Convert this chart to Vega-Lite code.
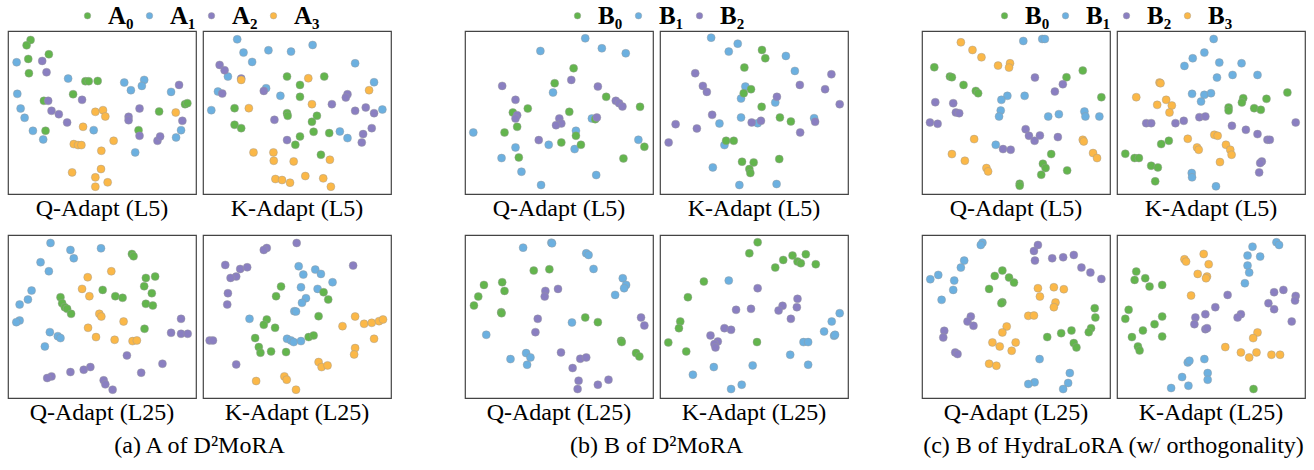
{
"$schema":"https://vega.github.io/schema/vega-lite/v6.json",
"background":"white",
"padding":{"left":7,"top":3,"right":2,"bottom":2},
"config":{"view":{"stroke":"#444","strokeWidth":1.2},"font":"Liberation Serif",
"legend":{"orient":"none","direction":"horizontal","title":null,"labelFont":"Liberation Serif","labelFontSize":25,"labelFontWeight":"bold","labelColor":"#000","symbolType":"circle","symbolSize":42,"symbolStrokeWidth":0,"labelOffset":8,"columnPadding":3,"legendY":-28},
"header":{"title":null,"labelOrient":"bottom","labelFont":"Liberation Serif","labelFontSize":24,"labelColor":"#000","labelPadding":3},
"title":{"font":"Liberation Serif","fontSize":24,"fontWeight":"normal","color":"#000","orient":"bottom","anchor":"middle","offset":8},
"point":{"filled":true,"size":64,"opacity":1,"stroke":"#999","strokeWidth":0.6,"strokeOpacity":0.7}},
"datasets":{
"a":[
{"p":"Q5","c":"A₀","x":68,"y":27},{"p":"Q5","c":"A₀","x":56,"y":43},{"p":"Q5","c":"A₀","x":61,"y":84},{"p":"Q5","c":"A₀","x":123,"y":70},{"p":"Q5","c":"A₀","x":63,"y":127},{"p":"Q5","c":"A₀","x":108,"y":210},{"p":"Q5","c":"A₀","x":233,"y":151},{"p":"Q5","c":"A₀","x":243,"y":151},{"p":"Q5","c":"A₀","x":270,"y":150},{"p":"Q5","c":"A₀","x":196,"y":190},{"p":"Q5","c":"A₀","x":455,"y":242},{"p":"Q5","c":"A₀","x":393,"y":298},{"p":"Q5","c":"A₀","x":113,"y":300},{"p":"Q5","c":"A₀","x":533,"y":220},{"p":"Q5","c":"A₀","x":540,"y":217},
{"p":"Q5","c":"A₁","x":26,"y":94},{"p":"Q5","c":"A₁","x":181,"y":143},{"p":"Q5","c":"A₁","x":28,"y":189},{"p":"Q5","c":"A₁","x":38,"y":233},{"p":"Q5","c":"A₁","x":50,"y":261},{"p":"Q5","c":"A₁","x":75,"y":300},{"p":"Q5","c":"A₁","x":106,"y":326},{"p":"Q5","c":"A₁","x":258,"y":298},{"p":"Q5","c":"A₁","x":350,"y":155},{"p":"Q5","c":"A₁","x":370,"y":178},{"p":"Q5","c":"A₁","x":410,"y":147},{"p":"Q5","c":"A₁","x":403,"y":165},{"p":"Q5","c":"A₁","x":491,"y":183},{"p":"Q5","c":"A₁","x":521,"y":298},{"p":"Q5","c":"A₁","x":506,"y":320},{"p":"Q5","c":"A₁","x":383,"y":365},
{"p":"Q5","c":"A₂","x":103,"y":90},{"p":"Q5","c":"A₂","x":116,"y":124},{"p":"Q5","c":"A₂","x":121,"y":210},{"p":"Q5","c":"A₂","x":131,"y":240},{"p":"Q5","c":"A₂","x":153,"y":250},{"p":"Q5","c":"A₂","x":178,"y":275},{"p":"Q5","c":"A₂","x":223,"y":207},{"p":"Q5","c":"A₂","x":396,"y":233},{"p":"Q5","c":"A₂","x":363,"y":258},{"p":"Q5","c":"A₂","x":363,"y":268},{"p":"Q5","c":"A₂","x":396,"y":315},{"p":"Q5","c":"A₂","x":450,"y":330},{"p":"Q5","c":"A₂","x":458,"y":317},{"p":"Q5","c":"A₂","x":515,"y":162},{"p":"Q5","c":"A₂","x":525,"y":270},
{"p":"Q5","c":"A₃","x":263,"y":243},{"p":"Q5","c":"A₃","x":286,"y":238},{"p":"Q5","c":"A₃","x":293,"y":257},{"p":"Q5","c":"A₃","x":226,"y":288},{"p":"Q5","c":"A₃","x":198,"y":340},{"p":"Q5","c":"A₃","x":211,"y":343},{"p":"Q5","c":"A₃","x":221,"y":343},{"p":"Q5","c":"A₃","x":318,"y":330},{"p":"Q5","c":"A₃","x":281,"y":360},{"p":"Q5","c":"A₃","x":280,"y":415},{"p":"Q5","c":"A₃","x":193,"y":425},{"p":"Q5","c":"A₃","x":263,"y":440},{"p":"Q5","c":"A₃","x":300,"y":455},{"p":"Q5","c":"A₃","x":263,"y":468},{"p":"Q5","c":"A₃","x":505,"y":245},
{"p":"K5","c":"A₁","x":103,"y":25},{"p":"K5","c":"A₁","x":122,"y":65},{"p":"K5","c":"A₁","x":148,"y":93},{"p":"K5","c":"A₁","x":197,"y":58},{"p":"K5","c":"A₁","x":265,"y":62},{"p":"K5","c":"A₁","x":330,"y":42},{"p":"K5","c":"A₁","x":458,"y":97},{"p":"K5","c":"A₁","x":75,"y":137},{"p":"K5","c":"A₁","x":45,"y":182},{"p":"K5","c":"A₁","x":25,"y":238},{"p":"K5","c":"A₁","x":190,"y":172},{"p":"K5","c":"A₁","x":233,"y":195},{"p":"K5","c":"A₁","x":515,"y":154},{"p":"K5","c":"A₁","x":540,"y":236},{"p":"K5","c":"A₁","x":412,"y":302},{"p":"K5","c":"A₁","x":435,"y":322},
{"p":"K5","c":"A₂","x":50,"y":102},{"p":"K5","c":"A₂","x":65,"y":118},{"p":"K5","c":"A₂","x":115,"y":143},{"p":"K5","c":"A₂","x":58,"y":188},{"p":"K5","c":"A₂","x":183,"y":180},{"p":"K5","c":"A₂","x":215,"y":267},{"p":"K5","c":"A₂","x":253,"y":328},{"p":"K5","c":"A₂","x":388,"y":220},{"p":"K5","c":"A₂","x":435,"y":190},{"p":"K5","c":"A₂","x":430,"y":200},{"p":"K5","c":"A₂","x":458,"y":240},{"p":"K5","c":"A₂","x":490,"y":230},{"p":"K5","c":"A₂","x":515,"y":247},{"p":"K5","c":"A₂","x":508,"y":292},{"p":"K5","c":"A₂","x":482,"y":310},{"p":"K5","c":"A₂","x":478,"y":335},
{"p":"K5","c":"A₀","x":253,"y":137},{"p":"K5","c":"A₀","x":365,"y":137},{"p":"K5","c":"A₀","x":292,"y":162},{"p":"K5","c":"A₀","x":292,"y":198},{"p":"K5","c":"A₀","x":95,"y":232},{"p":"K5","c":"A₀","x":253,"y":247},{"p":"K5","c":"A₀","x":255,"y":255},{"p":"K5","c":"A₀","x":343,"y":255},{"p":"K5","c":"A₀","x":328,"y":273},{"p":"K5","c":"A₀","x":95,"y":282},{"p":"K5","c":"A₀","x":115,"y":292},{"p":"K5","c":"A₀","x":333,"y":303},{"p":"K5","c":"A₀","x":380,"y":307},{"p":"K5","c":"A₀","x":292,"y":317},{"p":"K5","c":"A₀","x":278,"y":342},{"p":"K5","c":"A₀","x":355,"y":372},
{"p":"K5","c":"A₃","x":317,"y":142},{"p":"K5","c":"A₃","x":115,"y":147},{"p":"K5","c":"A₃","x":500,"y":178},{"p":"K5","c":"A₃","x":138,"y":232},{"p":"K5","c":"A₃","x":328,"y":220},{"p":"K5","c":"A₃","x":152,"y":365},{"p":"K5","c":"A₃","x":212,"y":365},{"p":"K5","c":"A₃","x":213,"y":390},{"p":"K5","c":"A₃","x":273,"y":392},{"p":"K5","c":"A₃","x":382,"y":387},{"p":"K5","c":"A₃","x":218,"y":445},{"p":"K5","c":"A₃","x":238,"y":448},{"p":"K5","c":"A₃","x":262,"y":456},{"p":"K5","c":"A₃","x":308,"y":436},{"p":"K5","c":"A₃","x":362,"y":443},{"p":"K5","c":"A₃","x":385,"y":468},
{"p":"Q25","c":"A₁","x":128,"y":24},{"p":"Q25","c":"A₁","x":188,"y":45},{"p":"Q25","c":"A₁","x":198,"y":70},{"p":"Q25","c":"A₁","x":280,"y":40},{"p":"Q25","c":"A₁","x":98,"y":82},{"p":"Q25","c":"A₁","x":123,"y":109},{"p":"Q25","c":"A₁","x":71,"y":167},{"p":"Q25","c":"A₁","x":60,"y":194},{"p":"Q25","c":"A₁","x":35,"y":209},{"p":"Q25","c":"A₁","x":35,"y":257},{"p":"Q25","c":"A₁","x":25,"y":262},{"p":"Q25","c":"A₁","x":126,"y":292},{"p":"Q25","c":"A₁","x":150,"y":304},{"p":"Q25","c":"A₁","x":158,"y":310},{"p":"Q25","c":"A₁","x":111,"y":335},
{"p":"Q25","c":"A₀","x":373,"y":57},{"p":"Q25","c":"A₀","x":378,"y":64},{"p":"Q25","c":"A₀","x":415,"y":129},{"p":"Q25","c":"A₀","x":443,"y":125},{"p":"Q25","c":"A₀","x":410,"y":154},{"p":"Q25","c":"A₀","x":433,"y":175},{"p":"Q25","c":"A₀","x":415,"y":207},{"p":"Q25","c":"A₀","x":436,"y":212},{"p":"Q25","c":"A₀","x":285,"y":165},{"p":"Q25","c":"A₀","x":323,"y":184},{"p":"Q25","c":"A₀","x":345,"y":189},{"p":"Q25","c":"A₀","x":158,"y":187},{"p":"Q25","c":"A₀","x":163,"y":205},{"p":"Q25","c":"A₀","x":171,"y":217},{"p":"Q25","c":"A₀","x":178,"y":222},{"p":"Q25","c":"A₀","x":190,"y":237},{"p":"Q25","c":"A₀","x":411,"y":282},
{"p":"Q25","c":"A₃","x":240,"y":127},{"p":"Q25","c":"A₃","x":311,"y":109},{"p":"Q25","c":"A₃","x":223,"y":162},{"p":"Q25","c":"A₃","x":245,"y":184},{"p":"Q25","c":"A₃","x":275,"y":237},{"p":"Q25","c":"A₃","x":281,"y":245},{"p":"Q25","c":"A₃","x":348,"y":260},{"p":"Q25","c":"A₃","x":241,"y":279},{"p":"Q25","c":"A₃","x":265,"y":307},{"p":"Q25","c":"A₃","x":321,"y":315},{"p":"Q25","c":"A₃","x":375,"y":319},{"p":"Q25","c":"A₃","x":388,"y":317},
{"p":"Q25","c":"A₂","x":521,"y":252},{"p":"Q25","c":"A₂","x":491,"y":294},{"p":"Q25","c":"A₂","x":521,"y":297},{"p":"Q25","c":"A₂","x":541,"y":297},{"p":"Q25","c":"A₂","x":358,"y":362},{"p":"Q25","c":"A₂","x":465,"y":387},{"p":"Q25","c":"A₂","x":401,"y":414},{"p":"Q25","c":"A₂","x":248,"y":397},{"p":"Q25","c":"A₂","x":228,"y":405},{"p":"Q25","c":"A₂","x":188,"y":412},{"p":"Q25","c":"A₂","x":131,"y":425},{"p":"Q25","c":"A₂","x":118,"y":430},{"p":"Q25","c":"A₂","x":288,"y":437},{"p":"Q25","c":"A₂","x":293,"y":449},{"p":"Q25","c":"A₂","x":315,"y":465},
{"p":"K25","c":"A₂","x":282,"y":24},{"p":"K25","c":"A₂","x":192,"y":39},{"p":"K25","c":"A₂","x":183,"y":45},{"p":"K25","c":"A₂","x":67,"y":90},{"p":"K25","c":"A₂","x":112,"y":102},{"p":"K25","c":"A₂","x":133,"y":97},{"p":"K25","c":"A₂","x":100,"y":125},{"p":"K25","c":"A₂","x":83,"y":129},{"p":"K25","c":"A₂","x":75,"y":175},{"p":"K25","c":"A₂","x":73,"y":209},{"p":"K25","c":"A₂","x":452,"y":92},{"p":"K25","c":"A₂","x":20,"y":317},{"p":"K25","c":"A₂","x":30,"y":317},{"p":"K25","c":"A₂","x":100,"y":389},
{"p":"K25","c":"A₁","x":288,"y":94},{"p":"K25","c":"A₁","x":302,"y":119},{"p":"K25","c":"A₁","x":338,"y":104},{"p":"K25","c":"A₁","x":355,"y":117},{"p":"K25","c":"A₁","x":390,"y":142},{"p":"K25","c":"A₁","x":295,"y":157},{"p":"K25","c":"A₁","x":345,"y":162},{"p":"K25","c":"A₁","x":310,"y":190},{"p":"K25","c":"A₁","x":298,"y":204},{"p":"K25","c":"A₁","x":275,"y":229},{"p":"K25","c":"A₁","x":280,"y":230},{"p":"K25","c":"A₁","x":140,"y":252},{"p":"K25","c":"A₁","x":253,"y":312},{"p":"K25","c":"A₁","x":265,"y":317},{"p":"K25","c":"A₁","x":273,"y":322},{"p":"K25","c":"A₁","x":295,"y":319},
{"p":"K25","c":"A₀","x":235,"y":155},{"p":"K25","c":"A₀","x":220,"y":184},{"p":"K25","c":"A₀","x":363,"y":172},{"p":"K25","c":"A₀","x":377,"y":194},{"p":"K25","c":"A₀","x":348,"y":244},{"p":"K25","c":"A₀","x":192,"y":254},{"p":"K25","c":"A₀","x":183,"y":270},{"p":"K25","c":"A₀","x":217,"y":279},{"p":"K25","c":"A₀","x":157,"y":310},{"p":"K25","c":"A₀","x":168,"y":337},{"p":"K25","c":"A₀","x":173,"y":354},{"p":"K25","c":"A₀","x":205,"y":350},{"p":"K25","c":"A₀","x":250,"y":352},{"p":"K25","c":"A₀","x":318,"y":307},{"p":"K25","c":"A₀","x":333,"y":302},
{"p":"K25","c":"A₃","x":458,"y":245},{"p":"K25","c":"A₃","x":420,"y":274},{"p":"K25","c":"A₃","x":485,"y":267},{"p":"K25","c":"A₃","x":508,"y":264},{"p":"K25","c":"A₃","x":530,"y":259},{"p":"K25","c":"A₃","x":542,"y":254},{"p":"K25","c":"A₃","x":515,"y":312},{"p":"K25","c":"A₃","x":458,"y":340},{"p":"K25","c":"A₃","x":455,"y":359},{"p":"K25","c":"A₃","x":348,"y":382},{"p":"K25","c":"A₃","x":357,"y":397},{"p":"K25","c":"A₃","x":375,"y":392},{"p":"K25","c":"A₃","x":245,"y":425},{"p":"K25","c":"A₃","x":252,"y":435},{"p":"K25","c":"A₃","x":160,"y":439},{"p":"K25","c":"A₃","x":280,"y":465}
],
"b":[
{"p":"Q5","c":"B₁","x":362,"y":22},{"p":"Q5","c":"B₁","x":227,"y":60},{"p":"Q5","c":"B₁","x":412,"y":52},{"p":"Q5","c":"B₁","x":484,"y":67},{"p":"Q5","c":"B₁","x":265,"y":185},{"p":"Q5","c":"B₁","x":25,"y":305},{"p":"Q5","c":"B₁","x":152,"y":350},{"p":"Q5","c":"B₁","x":110,"y":382},{"p":"Q5","c":"B₁","x":170,"y":423},{"p":"Q5","c":"B₁","x":229,"y":463},{"p":"Q5","c":"B₁","x":252,"y":342},{"p":"Q5","c":"B₁","x":334,"y":300},{"p":"Q5","c":"B₁","x":330,"y":355},{"p":"Q5","c":"B₁","x":382,"y":263},{"p":"Q5","c":"B₁","x":522,"y":327},{"p":"Q5","c":"B₁","x":395,"y":433},
{"p":"Q5","c":"B₀","x":327,"y":112},{"p":"Q5","c":"B₀","x":270,"y":157},{"p":"Q5","c":"B₀","x":425,"y":198},{"p":"Q5","c":"B₀","x":527,"y":228},{"p":"Q5","c":"B₀","x":189,"y":233},{"p":"Q5","c":"B₀","x":144,"y":245},{"p":"Q5","c":"B₀","x":157,"y":288},{"p":"Q5","c":"B₀","x":119,"y":305},{"p":"Q5","c":"B₀","x":314,"y":243},{"p":"Q5","c":"B₀","x":392,"y":265},{"p":"Q5","c":"B₀","x":334,"y":315},{"p":"Q5","c":"B₀","x":349,"y":342},{"p":"Q5","c":"B₀","x":290,"y":335},{"p":"Q5","c":"B₀","x":162,"y":380},{"p":"Q5","c":"B₀","x":477,"y":383},{"p":"Q5","c":"B₀","x":540,"y":348},
{"p":"Q5","c":"B₂","x":112,"y":165},{"p":"Q5","c":"B₂","x":320,"y":147},{"p":"Q5","c":"B₂","x":400,"y":167},{"p":"Q5","c":"B₂","x":152,"y":207},{"p":"Q5","c":"B₂","x":157,"y":253},{"p":"Q5","c":"B₂","x":152,"y":263},{"p":"Q5","c":"B₂","x":284,"y":263},{"p":"Q5","c":"B₂","x":290,"y":278},{"p":"Q5","c":"B₂","x":274,"y":283},{"p":"Q5","c":"B₂","x":397,"y":260},{"p":"Q5","c":"B₂","x":454,"y":210},{"p":"Q5","c":"B₂","x":464,"y":217},{"p":"Q5","c":"B₂","x":474,"y":227},{"p":"Q5","c":"B₂","x":222,"y":328},
{"p":"K5","c":"B₁","x":154,"y":20},{"p":"K5","c":"B₁","x":234,"y":38},{"p":"K5","c":"B₁","x":207,"y":62},{"p":"K5","c":"B₁","x":379,"y":75},{"p":"K5","c":"B₁","x":406,"y":120},{"p":"K5","c":"B₁","x":257,"y":167},{"p":"K5","c":"B₁","x":244,"y":203},{"p":"K5","c":"B₁","x":347,"y":215},{"p":"K5","c":"B₁","x":244,"y":260},{"p":"K5","c":"B₁","x":179,"y":278},{"p":"K5","c":"B₁","x":294,"y":277},{"p":"K5","c":"B₁","x":464,"y":262},{"p":"K5","c":"B₁","x":194,"y":343},{"p":"K5","c":"B₁","x":159,"y":410},{"p":"K5","c":"B₁","x":239,"y":463},{"p":"K5","c":"B₁","x":351,"y":460},
{"p":"K5","c":"B₀","x":307,"y":57},{"p":"K5","c":"B₀","x":317,"y":82},{"p":"K5","c":"B₀","x":254,"y":110},{"p":"K5","c":"B₀","x":274,"y":175},{"p":"K5","c":"B₀","x":252,"y":187},{"p":"K5","c":"B₀","x":306,"y":228},{"p":"K5","c":"B₀","x":361,"y":260},{"p":"K5","c":"B₀","x":394,"y":272},{"p":"K5","c":"B₀","x":199,"y":330},{"p":"K5","c":"B₀","x":222,"y":330},{"p":"K5","c":"B₀","x":247,"y":393},{"p":"K5","c":"B₀","x":282,"y":395},{"p":"K5","c":"B₀","x":269,"y":415},{"p":"K5","c":"B₀","x":272,"y":427},{"p":"K5","c":"B₀","x":359,"y":385},
{"p":"K5","c":"B₂","x":106,"y":127},{"p":"K5","c":"B₂","x":129,"y":165},{"p":"K5","c":"B₂","x":141,"y":183},{"p":"K5","c":"B₂","x":516,"y":130},{"p":"K5","c":"B₂","x":421,"y":162},{"p":"K5","c":"B₂","x":497,"y":175},{"p":"K5","c":"B₂","x":541,"y":220},{"p":"K5","c":"B₂","x":352,"y":198},{"p":"K5","c":"B₂","x":157,"y":252},{"p":"K5","c":"B₂","x":47,"y":280},{"p":"K5","c":"B₂","x":111,"y":293},{"p":"K5","c":"B₂","x":26,"y":335},{"p":"K5","c":"B₂","x":276,"y":275},{"p":"K5","c":"B₂","x":304,"y":270},{"p":"K5","c":"B₂","x":467,"y":273},{"p":"K5","c":"B₂","x":422,"y":305},
{"p":"Q25","c":"B₁","x":175,"y":38},{"p":"Q25","c":"B₁","x":260,"y":23},{"p":"Q25","c":"B₁","x":262,"y":25},{"p":"Q25","c":"B₁","x":365,"y":55},{"p":"Q25","c":"B₁","x":372,"y":60},{"p":"Q25","c":"B₁","x":387,"y":102},{"p":"Q25","c":"B₁","x":475,"y":130},{"p":"Q25","c":"B₁","x":485,"y":150},{"p":"Q25","c":"B₁","x":479,"y":160},{"p":"Q25","c":"B₁","x":452,"y":180},{"p":"Q25","c":"B₁","x":322,"y":263},{"p":"Q25","c":"B₁","x":64,"y":300},{"p":"Q25","c":"B₁","x":137,"y":373},{"p":"Q25","c":"B₁","x":184,"y":355},{"p":"Q25","c":"B₁","x":197,"y":368},{"p":"Q25","c":"B₁","x":187,"y":390},
{"p":"Q25","c":"B₀","x":207,"y":107},{"p":"Q25","c":"B₀","x":254,"y":103},{"p":"Q25","c":"B₀","x":57,"y":150},{"p":"Q25","c":"B₀","x":112,"y":142},{"p":"Q25","c":"B₀","x":119,"y":168},{"p":"Q25","c":"B₀","x":40,"y":185},{"p":"Q25","c":"B₀","x":27,"y":212},{"p":"Q25","c":"B₀","x":109,"y":232},{"p":"Q25","c":"B₀","x":110,"y":235},{"p":"Q25","c":"B₀","x":362,"y":248},{"p":"Q25","c":"B₀","x":400,"y":262},{"p":"Q25","c":"B₀","x":470,"y":318},{"p":"Q25","c":"B₀","x":472,"y":322},{"p":"Q25","c":"B₀","x":515,"y":355},{"p":"Q25","c":"B₀","x":525,"y":365},
{"p":"Q25","c":"B₂","x":242,"y":168},{"p":"Q25","c":"B₂","x":280,"y":162},{"p":"Q25","c":"B₂","x":240,"y":185},{"p":"Q25","c":"B₂","x":219,"y":252},{"p":"Q25","c":"B₂","x":530,"y":248},{"p":"Q25","c":"B₂","x":540,"y":272},{"p":"Q25","c":"B₂","x":212,"y":292},{"p":"Q25","c":"B₂","x":289,"y":353},{"p":"Q25","c":"B₂","x":347,"y":372},{"p":"Q25","c":"B₂","x":365,"y":368},{"p":"Q25","c":"B₂","x":324,"y":400},{"p":"Q25","c":"B₂","x":342,"y":438},{"p":"Q25","c":"B₂","x":339,"y":463},{"p":"Q25","c":"B₂","x":400,"y":450},{"p":"Q25","c":"B₂","x":432,"y":435},
{"p":"K25","c":"B₀","x":294,"y":22},{"p":"K25","c":"B₀","x":269,"y":55},{"p":"K25","c":"B₀","x":347,"y":98},{"p":"K25","c":"B₀","x":371,"y":75},{"p":"K25","c":"B₀","x":399,"y":62},{"p":"K25","c":"B₀","x":414,"y":80},{"p":"K25","c":"B₀","x":424,"y":85},{"p":"K25","c":"B₀","x":439,"y":58},{"p":"K25","c":"B₀","x":469,"y":88},{"p":"K25","c":"B₀","x":132,"y":140},{"p":"K25","c":"B₀","x":84,"y":187},{"p":"K25","c":"B₀","x":61,"y":260},{"p":"K25","c":"B₀","x":57,"y":280},{"p":"K25","c":"B₀","x":25,"y":323},{"p":"K25","c":"B₀","x":79,"y":350},{"p":"K25","c":"B₀","x":292,"y":322},
{"p":"K25","c":"B₁","x":207,"y":137},{"p":"K25","c":"B₁","x":541,"y":235},{"p":"K25","c":"B₁","x":517,"y":260},{"p":"K25","c":"B₁","x":494,"y":290},{"p":"K25","c":"B₁","x":524,"y":303},{"p":"K25","c":"B₁","x":527,"y":300},{"p":"K25","c":"B₁","x":432,"y":322},{"p":"K25","c":"B₁","x":446,"y":322},{"p":"K25","c":"B₁","x":392,"y":360},{"p":"K25","c":"B₁","x":446,"y":390},{"p":"K25","c":"B₁","x":279,"y":392},{"p":"K25","c":"B₁","x":162,"y":397},{"p":"K25","c":"B₁","x":99,"y":420},{"p":"K25","c":"B₁","x":246,"y":450},{"p":"K25","c":"B₁","x":214,"y":463},
{"p":"K25","c":"B₂","x":294,"y":160},{"p":"K25","c":"B₂","x":414,"y":192},{"p":"K25","c":"B₂","x":412,"y":217},{"p":"K25","c":"B₂","x":369,"y":213},{"p":"K25","c":"B₂","x":357,"y":227},{"p":"K25","c":"B₂","x":394,"y":252},{"p":"K25","c":"B₂","x":229,"y":225},{"p":"K25","c":"B₂","x":274,"y":222},{"p":"K25","c":"B₂","x":194,"y":280},{"p":"K25","c":"B₂","x":214,"y":285},{"p":"K25","c":"B₂","x":152,"y":302},{"p":"K25","c":"B₂","x":174,"y":320},{"p":"K25","c":"B₂","x":164,"y":328},{"p":"K25","c":"B₂","x":167,"y":338}
],
"c":[
{"p":"Q5","c":"B₃","x":117,"y":34},{"p":"Q5","c":"B₃","x":152,"y":57},{"p":"Q5","c":"B₃","x":179,"y":79},{"p":"Q5","c":"B₃","x":229,"y":104},{"p":"Q5","c":"B₃","x":265,"y":97},{"p":"Q5","c":"B₃","x":262,"y":110},{"p":"Q5","c":"B₃","x":157,"y":325},{"p":"Q5","c":"B₃","x":90,"y":370},{"p":"Q5","c":"B₃","x":129,"y":390},{"p":"Q5","c":"B₃","x":194,"y":412},{"p":"Q5","c":"B₃","x":199,"y":422},{"p":"Q5","c":"B₃","x":484,"y":327},{"p":"Q5","c":"B₃","x":487,"y":332},{"p":"Q5","c":"B₃","x":515,"y":367},{"p":"Q5","c":"B₃","x":527,"y":382},
{"p":"Q5","c":"B₁","x":305,"y":30},{"p":"Q5","c":"B₁","x":362,"y":24},{"p":"Q5","c":"B₁","x":370,"y":24},{"p":"Q5","c":"B₁","x":309,"y":195},{"p":"Q5","c":"B₁","x":257,"y":195},{"p":"Q5","c":"B₁","x":239,"y":207},{"p":"Q5","c":"B₁","x":237,"y":239},{"p":"Q5","c":"B₁","x":232,"y":257},{"p":"Q5","c":"B₁","x":380,"y":257},{"p":"Q5","c":"B₁","x":412,"y":250},{"p":"Q5","c":"B₁","x":489,"y":242},{"p":"Q5","c":"B₁","x":492,"y":257},{"p":"Q5","c":"B₁","x":534,"y":257},{"p":"Q5","c":"B₁","x":222,"y":342},
{"p":"Q5","c":"B₀","x":37,"y":109},{"p":"Q5","c":"B₀","x":84,"y":137},{"p":"Q5","c":"B₀","x":90,"y":139},{"p":"Q5","c":"B₀","x":125,"y":162},{"p":"Q5","c":"B₀","x":162,"y":180},{"p":"Q5","c":"B₀","x":169,"y":187},{"p":"Q5","c":"B₀","x":435,"y":139},{"p":"Q5","c":"B₀","x":484,"y":119},{"p":"Q5","c":"B₀","x":540,"y":199},{"p":"Q5","c":"B₀","x":389,"y":370},{"p":"Q5","c":"B₀","x":364,"y":399},{"p":"Q5","c":"B₀","x":372,"y":412},{"p":"Q5","c":"B₀","x":359,"y":432},{"p":"Q5","c":"B₀","x":437,"y":419},{"p":"Q5","c":"B₀","x":294,"y":459},{"p":"Q5","c":"B₀","x":294,"y":465},
{"p":"Q5","c":"B₂","x":340,"y":140},{"p":"Q5","c":"B₂","x":424,"y":160},{"p":"Q5","c":"B₂","x":400,"y":182},{"p":"Q5","c":"B₂","x":40,"y":214},{"p":"Q5","c":"B₂","x":94,"y":217},{"p":"Q5","c":"B₂","x":102,"y":245},{"p":"Q5","c":"B₂","x":112,"y":247},{"p":"Q5","c":"B₂","x":24,"y":275},{"p":"Q5","c":"B₂","x":47,"y":279},{"p":"Q5","c":"B₂","x":312,"y":295},{"p":"Q5","c":"B₂","x":322,"y":315},{"p":"Q5","c":"B₂","x":339,"y":330},{"p":"Q5","c":"B₂","x":355,"y":314},{"p":"Q5","c":"B₂","x":409,"y":319},{"p":"Q5","c":"B₂","x":244,"y":355},{"p":"Q5","c":"B₂","x":267,"y":357},
{"p":"K5","c":"B₁","x":291,"y":24},{"p":"K5","c":"B₁","x":263,"y":65},{"p":"K5","c":"B₁","x":228,"y":82},{"p":"K5","c":"B₁","x":203,"y":105},{"p":"K5","c":"B₁","x":308,"y":95},{"p":"K5","c":"B₁","x":375,"y":97},{"p":"K5","c":"B₁","x":301,"y":140},{"p":"K5","c":"B₁","x":348,"y":132},{"p":"K5","c":"B₁","x":423,"y":132},{"p":"K5","c":"B₁","x":226,"y":189},{"p":"K5","c":"B₁","x":263,"y":192},{"p":"K5","c":"B₁","x":283,"y":187},{"p":"K5","c":"B₁","x":253,"y":212},{"p":"K5","c":"B₁","x":225,"y":427},{"p":"K5","c":"B₁","x":226,"y":440},{"p":"K5","c":"B₁","x":298,"y":467},
{"p":"K5","c":"B₃","x":128,"y":155},{"p":"K5","c":"B₃","x":131,"y":157},{"p":"K5","c":"B₃","x":58,"y":199},{"p":"K5","c":"B₃","x":148,"y":207},{"p":"K5","c":"B₃","x":165,"y":224},{"p":"K5","c":"B₃","x":121,"y":222},{"p":"K5","c":"B₃","x":158,"y":245},{"p":"K5","c":"B₃","x":213,"y":324},{"p":"K5","c":"B₃","x":241,"y":350},{"p":"K5","c":"B₃","x":246,"y":357},{"p":"K5","c":"B₃","x":293,"y":312},{"p":"K5","c":"B₃","x":303,"y":315},{"p":"K5","c":"B₃","x":328,"y":342},{"p":"K5","c":"B₃","x":341,"y":357},{"p":"K5","c":"B₃","x":345,"y":372},{"p":"K5","c":"B₃","x":310,"y":394},
{"p":"K5","c":"B₀","x":513,"y":185},{"p":"K5","c":"B₀","x":380,"y":202},{"p":"K5","c":"B₀","x":376,"y":215},{"p":"K5","c":"B₀","x":450,"y":204},{"p":"K5","c":"B₀","x":336,"y":230},{"p":"K5","c":"B₀","x":336,"y":239},{"p":"K5","c":"B₀","x":413,"y":232},{"p":"K5","c":"B₀","x":433,"y":237},{"p":"K5","c":"B₀","x":156,"y":330},{"p":"K5","c":"B₀","x":133,"y":340},{"p":"K5","c":"B₀","x":25,"y":369},{"p":"K5","c":"B₀","x":53,"y":382},{"p":"K5","c":"B₀","x":66,"y":382},{"p":"K5","c":"B₀","x":103,"y":405},{"p":"K5","c":"B₀","x":123,"y":410},{"p":"K5","c":"B₀","x":115,"y":452},
{"p":"K5","c":"B₂","x":88,"y":277},{"p":"K5","c":"B₂","x":103,"y":277},{"p":"K5","c":"B₂","x":176,"y":277},{"p":"K5","c":"B₂","x":201,"y":270},{"p":"K5","c":"B₂","x":248,"y":259},{"p":"K5","c":"B₂","x":266,"y":257},{"p":"K5","c":"B₂","x":346,"y":285},{"p":"K5","c":"B₂","x":388,"y":297},{"p":"K5","c":"B₂","x":423,"y":310},{"p":"K5","c":"B₂","x":453,"y":327},{"p":"K5","c":"B₂","x":460,"y":327},{"p":"K5","c":"B₂","x":538,"y":275},{"p":"K5","c":"B₂","x":436,"y":392},{"p":"K5","c":"B₂","x":431,"y":397},{"p":"K5","c":"B₂","x":428,"y":425},
{"p":"Q25","c":"B₁","x":182,"y":23},{"p":"Q25","c":"B₁","x":177,"y":30},{"p":"Q25","c":"B₁","x":127,"y":77},{"p":"Q25","c":"B₁","x":117,"y":98},{"p":"Q25","c":"B₁","x":49,"y":120},{"p":"Q25","c":"B₁","x":25,"y":133},{"p":"Q25","c":"B₁","x":97,"y":137},{"p":"Q25","c":"B₁","x":94,"y":165},{"p":"Q25","c":"B₁","x":59,"y":195},{"p":"Q25","c":"B₁","x":354,"y":373},{"p":"Q25","c":"B₁","x":339,"y":443},{"p":"Q25","c":"B₁","x":320,"y":448},{"p":"Q25","c":"B₁","x":445,"y":415},{"p":"Q25","c":"B₁","x":440,"y":445},{"p":"Q25","c":"B₁","x":425,"y":463},
{"p":"Q25","c":"B₂","x":349,"y":30},{"p":"Q25","c":"B₂","x":337,"y":48},{"p":"Q25","c":"B₂","x":340,"y":77},{"p":"Q25","c":"B₂","x":392,"y":70},{"p":"Q25","c":"B₂","x":425,"y":67},{"p":"Q25","c":"B₂","x":457,"y":60},{"p":"Q25","c":"B₂","x":480,"y":98},{"p":"Q25","c":"B₂","x":507,"y":113},{"p":"Q25","c":"B₂","x":540,"y":132},{"p":"Q25","c":"B₂","x":147,"y":245},{"p":"Q25","c":"B₂","x":137,"y":260},{"p":"Q25","c":"B₂","x":155,"y":273},{"p":"Q25","c":"B₂","x":67,"y":288},{"p":"Q25","c":"B₂","x":64,"y":308},{"p":"Q25","c":"B₂","x":100,"y":353},{"p":"Q25","c":"B₂","x":107,"y":358},
{"p":"Q25","c":"B₀","x":242,"y":107},{"p":"Q25","c":"B₀","x":219,"y":123},{"p":"Q25","c":"B₀","x":262,"y":128},{"p":"Q25","c":"B₀","x":277,"y":143},{"p":"Q25","c":"B₀","x":202,"y":162},{"p":"Q25","c":"B₀","x":242,"y":202},{"p":"Q25","c":"B₀","x":239,"y":205},{"p":"Q25","c":"B₀","x":520,"y":220},{"p":"Q25","c":"B₀","x":522,"y":248},{"p":"Q25","c":"B₀","x":509,"y":280},{"p":"Q25","c":"B₀","x":502,"y":292},{"p":"Q25","c":"B₀","x":450,"y":287},{"p":"Q25","c":"B₀","x":419,"y":295},{"p":"Q25","c":"B₀","x":377,"y":307},{"p":"Q25","c":"B₀","x":457,"y":325},{"p":"Q25","c":"B₀","x":465,"y":338},
{"p":"Q25","c":"B₃","x":349,"y":160},{"p":"Q25","c":"B₃","x":355,"y":185},{"p":"Q25","c":"B₃","x":397,"y":157},{"p":"Q25","c":"B₃","x":427,"y":163},{"p":"Q25","c":"B₃","x":402,"y":203},{"p":"Q25","c":"B₃","x":397,"y":217},{"p":"Q25","c":"B₃","x":320,"y":243},{"p":"Q25","c":"B₃","x":337,"y":242},{"p":"Q25","c":"B₃","x":255,"y":275},{"p":"Q25","c":"B₃","x":242,"y":293},{"p":"Q25","c":"B₃","x":212,"y":323},{"p":"Q25","c":"B₃","x":234,"y":335},{"p":"Q25","c":"B₃","x":282,"y":323},{"p":"Q25","c":"B₃","x":270,"y":348},{"p":"Q25","c":"B₃","x":202,"y":387},{"p":"Q25","c":"B₃","x":224,"y":393},
{"p":"K25","c":"B₁","x":408,"y":35},{"p":"K25","c":"B₁","x":480,"y":22},{"p":"K25","c":"B₁","x":488,"y":30},{"p":"K25","c":"B₁","x":393,"y":62},{"p":"K25","c":"B₁","x":431,"y":65},{"p":"K25","c":"B₁","x":393,"y":92},{"p":"K25","c":"B₁","x":398,"y":113},{"p":"K25","c":"B₁","x":385,"y":145},{"p":"K25","c":"B₁","x":213,"y":383},{"p":"K25","c":"B₁","x":218,"y":378},{"p":"K25","c":"B₁","x":263,"y":373},{"p":"K25","c":"B₁","x":273,"y":415},{"p":"K25","c":"B₁","x":273,"y":435},{"p":"K25","c":"B₁","x":196,"y":427},{"p":"K25","c":"B₁","x":215,"y":453},{"p":"K25","c":"B₁","x":163,"y":460},
{"p":"K25","c":"B₃","x":203,"y":73},{"p":"K25","c":"B₃","x":208,"y":80},{"p":"K25","c":"B₃","x":261,"y":57},{"p":"K25","c":"B₃","x":276,"y":88},{"p":"K25","c":"B₃","x":243,"y":117},{"p":"K25","c":"B₃","x":271,"y":125},{"p":"K25","c":"B₃","x":268,"y":130},{"p":"K25","c":"B₃","x":223,"y":182},{"p":"K25","c":"B₃","x":423,"y":293},{"p":"K25","c":"B₃","x":410,"y":310},{"p":"K25","c":"B₃","x":326,"y":337},{"p":"K25","c":"B₃","x":373,"y":353},{"p":"K25","c":"B₃","x":398,"y":368},{"p":"K25","c":"B₃","x":420,"y":353},{"p":"K25","c":"B₃","x":465,"y":360},{"p":"K25","c":"B₃","x":491,"y":360},
{"p":"K25","c":"B₀","x":58,"y":110},{"p":"K25","c":"B₀","x":53,"y":135},{"p":"K25","c":"B₀","x":85,"y":130},{"p":"K25","c":"B₀","x":98,"y":155},{"p":"K25","c":"B₀","x":136,"y":150},{"p":"K25","c":"B₀","x":35,"y":225},{"p":"K25","c":"B₀","x":25,"y":252},{"p":"K25","c":"B₀","x":136,"y":245},{"p":"K25","c":"B₀","x":113,"y":268},{"p":"K25","c":"B₀","x":78,"y":287},{"p":"K25","c":"B₀","x":45,"y":307},{"p":"K25","c":"B₀","x":136,"y":305},{"p":"K25","c":"B₀","x":63,"y":335},{"p":"K25","c":"B₀","x":68,"y":347},{"p":"K25","c":"B₀","x":411,"y":463},
{"p":"K25","c":"B₂","x":333,"y":180},{"p":"K25","c":"B₂","x":473,"y":172},{"p":"K25","c":"B₂","x":501,"y":165},{"p":"K25","c":"B₂","x":538,"y":183},{"p":"K25","c":"B₂","x":536,"y":197},{"p":"K25","c":"B₂","x":456,"y":205},{"p":"K25","c":"B₂","x":473,"y":223},{"p":"K25","c":"B₂","x":526,"y":260},{"p":"K25","c":"B₂","x":296,"y":217},{"p":"K25","c":"B₂","x":266,"y":238},{"p":"K25","c":"B₂","x":236,"y":248},{"p":"K25","c":"B₂","x":233,"y":268},{"p":"K25","c":"B₂","x":373,"y":238},{"p":"K25","c":"B₂","x":363,"y":248},{"p":"K25","c":"B₂","x":266,"y":283},{"p":"K25","c":"B₂","x":271,"y":280}
]},
"hconcat":[
{"data":{"name":"a"},
"facet":{"field":"p","type":"nominal","sort":["Q5","K5","Q25","K25"],"header":{"labelExpr":"datum.value == 'Q5' ? 'Q-Adapt (L5)' : datum.value == 'K5' ? 'K-Adapt (L5)' : datum.value == 'Q25' ? 'Q-Adapt (L25)' : 'K-Adapt (L25)'"}},
"columns":2,"spacing":{"row":12,"column":5},
"title":{"text":"(a) A of D²MoRA"},
"spec":{"width":188,"height":163,"mark":{"type":"point"},
"encoding":{"x":{"field":"x","type":"quantitative","scale":{"domain":[0,566],"nice":false},"axis":null},
"y":{"field":"y","type":"quantitative","scale":{"domain":[0,490],"nice":false,"reverse":true},"axis":null},
"color":{"field":"c","type":"nominal","scale":{"domain":["A₀","A₁","A₂","A₃"],"range":["#63b54d","#6cb0e0","#8a7fc1","#fbb848"]},"legend":{"legendX":67}}}}},
{"data":{"name":"b"},
"facet":{"field":"p","type":"nominal","sort":["Q5","K5","Q25","K25"],"header":{"labelExpr":"datum.value == 'Q5' ? 'Q-Adapt (L5)' : datum.value == 'K5' ? 'K-Adapt (L5)' : datum.value == 'Q25' ? 'Q-Adapt (L25)' : 'K-Adapt (L25)'"}},
"columns":2,"spacing":{"row":12,"column":5},
"title":{"text":"(b) B of D²MoRA"},
"spec":{"width":188,"height":163,"mark":{"type":"point"},
"encoding":{"x":{"field":"x","type":"quantitative","scale":{"domain":[0,566],"nice":false},"axis":null},
"y":{"field":"y","type":"quantitative","scale":{"domain":[0,490],"nice":false,"reverse":true},"axis":null},
"color":{"field":"c","type":"nominal","scale":{"domain":["B₀","B₁","B₂"],"range":["#63b54d","#6cb0e0","#8a7fc1"]},"legend":{"legendX":100}}}}},
{"data":{"name":"c"},
"facet":{"field":"p","type":"nominal","sort":["Q5","K5","Q25","K25"],"header":{"labelExpr":"datum.value == 'Q5' ? 'Q-Adapt (L5)' : datum.value == 'K5' ? 'K-Adapt (L5)' : datum.value == 'Q25' ? 'Q-Adapt (L25)' : 'K-Adapt (L25)'"}},
"columns":2,"spacing":{"row":12,"column":5},
"title":{"text":"(c) B of HydraLoRA (w/ orthogonality)"},
"spec":{"width":188,"height":163,"mark":{"type":"point"},
"encoding":{"x":{"field":"x","type":"quantitative","scale":{"domain":[0,566],"nice":false},"axis":null},
"y":{"field":"y","type":"quantitative","scale":{"domain":[0,490],"nice":false,"reverse":true},"axis":null},
"color":{"field":"c","type":"nominal","scale":{"domain":["B₀","B₁","B₂","B₃"],"range":["#63b54d","#6cb0e0","#8a7fc1","#fbb848"]},"legend":{"legendX":70}}}}}
],
"spacing":72,
"resolve":{"scale":{"color":"independent"},"legend":{"color":"independent"}}
}
